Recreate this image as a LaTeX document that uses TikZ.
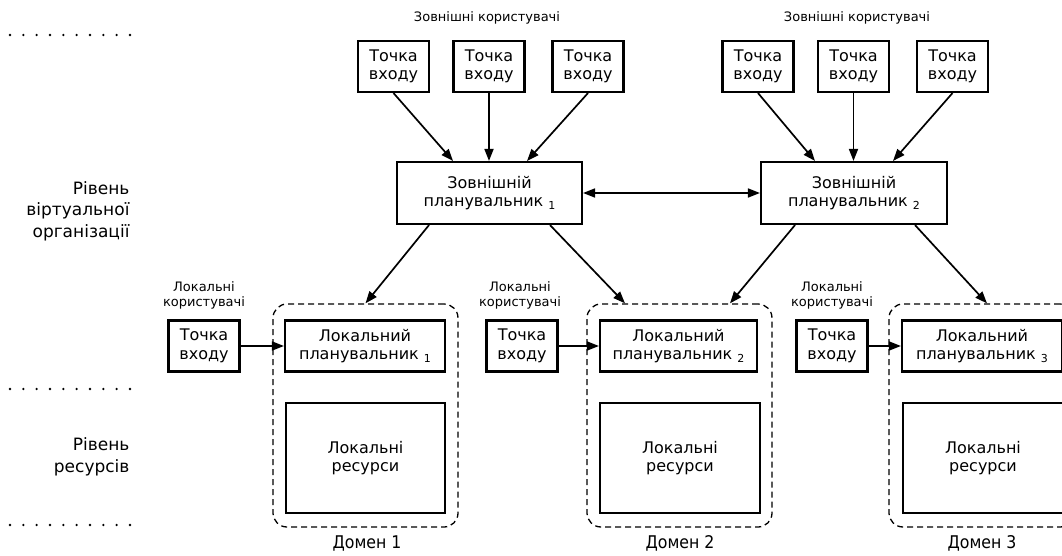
\documentclass[tikz,border=0pt]{standalone}
\usepackage{fontspec}
\setmainfont{DejaVu Sans}
\newfontfamily\condfont{DejaVu Sans Condensed}
\usetikzlibrary{arrows.meta}
\newcommand\subidx[1]{\ \raisebox{-3pt}{\fontsize{11}{11}\selectfont #1}}
\tikzset{
  box/.style={draw, line width=2.1pt, inner sep=0pt, align=center, font=\fontsize{16}{18.5}\selectfont},
  entry/.style={box, minimum width=71pt, minimum height=51pt},
  dom/.style={draw, dashed, dash pattern=on 6pt off 4pt, line width=1.3pt, rounded corners=14pt, inner sep=0pt},
  arr/.style={line width=1.7pt, -{Triangle[length=12pt,width=9pt]}},
  darr/.style={line width=1.7pt, {Triangle[length=12pt,width=9pt]}-{Triangle[length=12pt,width=9pt]}},
  ulabel/.style={align=center, font=\fontsize{13}{15}\selectfont},
  llabel/.style={align=right, anchor=east, font=\fontsize{17}{21.5}\selectfont},
  domlabel/.style={font=\condfont\fontsize{17.5}{20}\selectfont},
  dot/.style={fill, circle, inner sep=0pt, minimum size=2.6pt}
}
\begin{document}
\begin{tikzpicture}[x=1pt,y=-1pt]
\useasboundingbox (0,0) rectangle (1062,556);
% dotted level separators
\foreach \yy in {35,389,525}{
  \foreach \i in {0,...,9}{
    \node[dot] at ({10+13.33*\i},\yy) {};
  }
}
% level labels
\node[llabel] (lv1) at (133,211) {Рівень\\віртуальної\\організації};
\node[llabel] (lv2) at (133,457) {Рівень\\ресурсів};
% external users
\node[ulabel] (eu1) at (487,18) {Зовнішні користувачі};
\node[ulabel] (eu2) at (857,18) {Зовнішні користувачі};
\node[entry] (e1) at (393.5,66.5) {Точка\\входу};
\node[entry] (e2) at (489,66.5) {Точка\\входу};
\node[entry] (e3) at (588,66.5) {Точка\\входу};
\node[entry] (e4) at (758,66.5) {Точка\\входу};
\node[entry] (e5) at (853.5,66.5) {Точка\\входу};
\node[entry] (e6) at (952.5,66.5) {Точка\\входу};
% external schedulers
\node[box, minimum width=185pt, minimum height=62pt] (s1) at (489.5,193) {Зовнішній\\планувальник\subidx{1}};
\node[box, minimum width=186pt, minimum height=62pt] (s2) at (854,193) {Зовнішній\\планувальник\subidx{2}};
% domains
\node[dom, minimum width=185pt, minimum height=223pt] (d1) at (365.5,415.5) {};
\node[dom, minimum width=185pt, minimum height=223pt] (d2) at (679.5,415.5) {};
\node[dom, minimum width=185pt, minimum height=223pt] (d3) at (981.5,415.5) {};
% local users
\node[ulabel] (lu1) at (204,295) {Локальні\\користувачі};
\node[ulabel] (lu2) at (520,295) {Локальні\\користувачі};
\node[ulabel] (lu3) at (832,295) {Локальні\\користувачі};
\node[entry] (l1) at (204,346) {Точка\\входу};
\node[entry] (l2) at (522,346) {Точка\\входу};
\node[entry] (l3) at (832,346) {Точка\\входу};
% local schedulers
\node[box, minimum width=160pt, minimum height=51pt] (ls1) at (365,346) {Локальний\\планувальник\subidx{1}};
\node[box, minimum width=157pt, minimum height=51pt] (ls2) at (678.5,346) {Локальний\\планувальник\subidx{2}};
\node[box, minimum width=160pt, minimum height=51pt] (ls3) at (982,346) {Локальний\\планувальник\subidx{3}};
% local resources
\node[box, minimum width=159pt, minimum height=110pt] (r1) at (365.5,458) {Локальні\\ресурси};
\node[box, minimum width=160pt, minimum height=110pt] (r2) at (680,458) {Локальні\\ресурси};
\node[box, minimum width=160pt, minimum height=110pt] (r3) at (983,458) {Локальні\\ресурси};
% domain labels
\node[domlabel] (dl1) at (367,543) {Домен 1};
\node[domlabel] (dl2) at (680,543) {Домен 2};
\node[domlabel] (dl3) at (982,543) {Домен 3};
% arrows: entry points to external schedulers
\draw[arr] (e1.south) -- ([xshift=-36.5pt]s1.north);
\draw[arr] (e2.south) -- (e2.south |- s1.north);
\draw[arr] (e3.south) -- ([xshift=37.5pt]s1.north);
\draw[arr] (e4.south) -- ([xshift=-39pt]s2.north);
\draw[arr] (e5.south) -- (e5.south |- s2.north);
\draw[arr] (e6.south) -- ([xshift=39pt]s2.north);
% between schedulers
\draw[darr] (s1.east) -- (s2.west);
% external schedulers to domains
\draw[arr] ([xshift=-60.5pt]s1.south) -- (d1.north);
\draw[arr] ([xshift=60.5pt]s1.south) -- ([xshift=-54.5pt]d2.north);
\draw[arr] ([xshift=-59pt]s2.south) -- ([xshift=50.5pt]d2.north);
\draw[arr] ([xshift=61pt]s2.south) -- ([xshift=5.5pt]d3.north);
% local entry points
\draw[arr] (l1.east) -- (ls1.west);
\draw[arr] (l2.east) -- (ls2.west);
\draw[arr] (l3.east) -- (ls3.west);
\end{tikzpicture}
\end{document}
